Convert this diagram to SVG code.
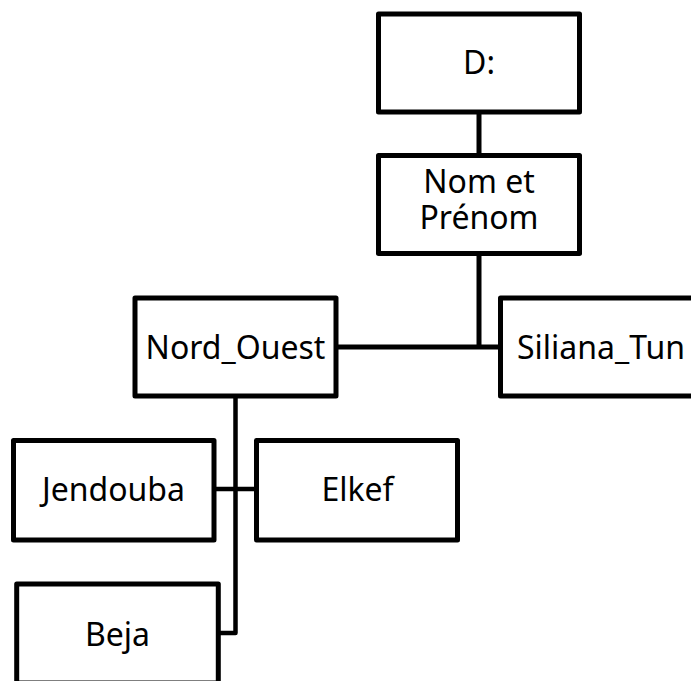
<svg xmlns="http://www.w3.org/2000/svg" width="691" height="681" viewBox="0 0 691 681">
<style>
.box{fill:#fff;stroke:#000;stroke-width:5;stroke-linejoin:round}
.lbl{font-family:"Noto Sans","Open Sans",sans-serif;font-size:32px;fill:#000;text-anchor:middle}
.c1{fill:none;stroke:#000;stroke-width:5}
.c2{fill:none;stroke:#000;stroke-width:4.5;stroke-linejoin:round}
</style>
<rect width="691" height="681" fill="#fff"/>
<g id="connectors">
<line class="c1" x1="479" y1="112" x2="479" y2="155.5"/>
<polyline class="c1" points="479,253.5 479,347"/>
<line class="c1" x1="336" y1="347" x2="500" y2="347"/>
<polyline class="c2" points="235.5,396 235.5,633 218,633"/>
<line class="c2" x1="214" y1="489" x2="256.5" y2="489"/>
</g>
<g id="node-d">
<rect class="box" x="378.5" y="14" width="201" height="98"/>
<text class="lbl" x="479" y="74">D:</text>
</g>
<g id="node-nom">
<rect class="box" x="378.5" y="155.5" width="201" height="98"/>
<text class="lbl" x="479" y="193">Nom et</text>
<text class="lbl" x="479" y="228.5">Prénom</text>
</g>
<g id="node-nord-ouest">
<rect class="box" x="135" y="298" width="201" height="98"/>
<text class="lbl" x="235.5" y="359">Nord_Ouest</text>
</g>
<g id="node-siliana">
<rect class="box" x="500.5" y="298" width="201" height="98"/>
<text class="lbl" x="601" y="359">Siliana_Tun</text>
</g>
<g id="node-jendouba">
<rect class="box" x="13.5" y="440.5" width="200.5" height="99.5"/>
<text class="lbl" x="113.5" y="501">Jendouba</text>
</g>
<g id="node-elkef">
<rect class="box" x="256.5" y="440.5" width="201" height="99.5"/>
<text class="lbl" x="357.5" y="501">Elkef</text>
</g>
<g id="node-beja">
<rect class="box" x="16.7" y="584" width="201.6" height="99"/>
<text class="lbl" x="117.5" y="646">Beja</text>
</g>
</svg>
